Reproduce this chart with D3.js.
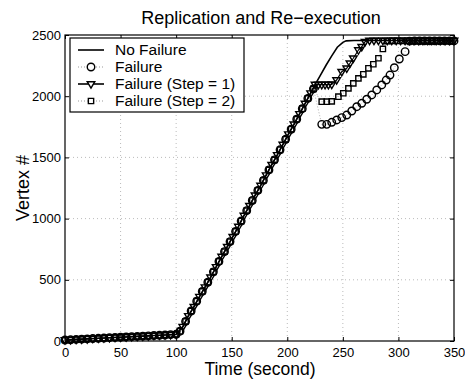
<!DOCTYPE html>
<html>
<head>
<meta charset="utf-8">
<script src="https://cdn.jsdelivr.net/npm/d3@7"></script>
<style>
  html, body { margin: 0; padding: 0; background: #fff; }
  svg { display: block; font-family: "Liberation Sans", Arial, Helvetica, sans-serif; }
</style>
</head>
<body>
<svg id="chart" width="465" height="379"></svg>
<script>
// ---------- data ----------
const title = "Replication and Re\u2212execution";
const xLabel = "Time (second)";
const yLabel = "Vertex #";
const xTicks = [0, 50, 100, 150, 200, 250, 300, 350];
const yTicks = [0, 500, 1000, 1500, 2000, 2500];
const seriesNames = ["No Failure", "Failure", "Failure (Step = 1)", "Failure (Step = 2)"];

// shared slow start (0-100 s)
const startT = [0,5,10,15,20,25,30,35,40,45,50,55,60,65,70,75,80,85,90,95,100];
const startV = [8,10,13,15,17,20,22,24,27,29,31,33,36,38,40,42,45,47,49,52,55];

// ramp samples (No Failure and Step = 1)
const rampT = [106,111,116,121,126,131,136,141,146,151,156,161,166,171,176,181,186,191,196,201,206,211,216,221,225];
const rampV = [117,205,280,362,440,520,605,690,770,852,935,1025,1105,1190,1270,1355,1440,1520,1605,1690,1770,1855,1940,2025,2095];

// ramp samples (Failure and Step = 2, taken in between)
const ramp2T = [103.5,108.5,113.5,118.5,123.5,128.5,133.5,138.5,143.5,148.5,153.5,158.5,163.5,168.5,173.5,178.5,183.5,188.5,193.5,198.5,203.5,208.5,213.5,218.5,223.5];
const ramp2V = [80,160,245,325,405,480,565,650,730,812,895,980,1065,1148,1230,1312,1398,1480,1562,1648,1730,1812,1898,1982,2060];

// No Failure (solid line, no markers)
const noFailT = [230,235,240,245,250,253,260,280,300,320,350];
const noFailV = [2175,2255,2330,2400,2440,2452,2455,2455,2455,2455,2455];

// Failure (circles)
const failT = [231,235.5,240,244.5,249,253.5,258,262.5,267,271.5,276,280.5,285,289,292.4,296.3,300.8,306,310,314.5,319,323.5,328,332.5,337,341.5,346,350];
const failV = [1770,1770,1787,1806,1825,1846,1879,1914,1942,1975,2010,2051,2092,2132,2173,2233,2304,2364,2450,2452,2452,2452,2452,2452,2452,2452,2452,2452];

// Failure (Step = 1) (triangles)
const step1T = [228,231,234,237,240,244.4,249,253.5,256.4,259.4,264,267,270,274,278,282,286,290,294,298,302,306,310,314,318,322,326,330,334,338,342,346,350];
const step1V = [2095,2095,2095,2095,2097,2132,2200,2228,2269,2310,2377,2404,2445,2455,2455,2455,2455,2455,2455,2455,2455,2455,2455,2455,2455,2455,2455,2455,2455,2455,2455,2455,2455];

// Failure (Step = 2) (squares)
const step2T = [231,235.5,240,246,250.4,255,259.4,264,268.4,273,277.4,282,286,290,294.5,299,303.5,308,312.5,317,321.5,326,330.5,335,339.5,344,348.5];
const step2V = [1955,1955,1958,1996,2024,2064,2105,2146,2179,2228,2261,2310,2386,2450,2452,2452,2452,2452,2452,2452,2452,2452,2452,2452,2452,2452,2452];

// ---------- build ----------
const zip = (ts, vs) => ts.map((t, i) => ({ t, v: vs[i] }));
const start = zip(startT, startV);
const rampA = start.concat(zip(rampT, rampV));
const rampB = start.concat(zip(ramp2T, ramp2V));
const series = [
  { name: seriesNames[0], data: rampA.concat(zip(noFailT, noFailV)), marker: null, dash: null, width: 1.6 },
  { name: seriesNames[1], data: rampB.concat(zip(failT, failV)), marker: "circle", dash: "1,2", lineColor: "#999", width: 0.8 },
  { name: seriesNames[2], data: rampA.concat(zip(step1T, step1V)), marker: "triangle", dash: null, width: 1.2 },
  { name: seriesNames[3], data: rampB.concat(zip(step2T, step2V)), marker: "square", dash: "1,2", lineColor: "#999", width: 0.8 }
];

const svg = d3.select("#chart");
const m = { left: 65, right: 454, top: 35, bottom: 341 };
const x = d3.scaleLinear().domain([0, 350]).range([m.left, m.right]);
const y = d3.scaleLinear().domain([0, 2500]).range([m.bottom, m.top]);

// grid
const grid = svg.append("g");
grid.selectAll(".gx").data(xTicks.slice(1, -1)).enter().append("line")
  .attr("x1", d => x(d)).attr("x2", d => x(d)).attr("y1", m.top).attr("y2", m.bottom)
  .attr("stroke", "#aaa").attr("stroke-width", 0.8).attr("stroke-dasharray", "1,3");
grid.selectAll(".gy").data(yTicks.slice(1, -1)).enter().append("line")
  .attr("y1", d => y(d)).attr("y2", d => y(d)).attr("x1", m.left).attr("x2", m.right)
  .attr("stroke", "#aaa").attr("stroke-width", 0.8).attr("stroke-dasharray", "1,3");

// axes
const fs = 13;
const xAxis = d3.axisBottom(x).tickValues(xTicks).tickSize(-4).tickPadding(7).tickFormat(d3.format("d"));
const yAxis = d3.axisLeft(y).tickValues(yTicks).tickSize(-4).tickPadding(4).tickFormat(d3.format("d"));
const gx = svg.append("g").attr("transform", `translate(0,${m.bottom})`).call(xAxis);
const gy = svg.append("g").attr("transform", `translate(${m.left},0)`).call(yAxis);
const gxTop = svg.append("g").attr("transform", `translate(0,${m.top})`).call(d3.axisTop(x).tickValues(xTicks).tickSize(-4).tickFormat(""));
const gyRight = svg.append("g").attr("transform", `translate(${m.right},0)`).call(d3.axisRight(y).tickValues(yTicks).tickSize(-4).tickFormat(""));
[gx, gy, gxTop, gyRight].forEach(g => {
  g.select(".domain").remove();
  g.selectAll("line").attr("stroke", "#000").attr("stroke-width", 1);
  g.selectAll("text").attr("font-size", fs).attr("fill", "#000")
    .attr("font-family", "'Liberation Sans', Arial, Helvetica, sans-serif");
});
svg.append("rect").attr("x", m.left).attr("y", m.top)
  .attr("width", m.right - m.left).attr("height", m.bottom - m.top)
  .attr("fill", "none").attr("stroke", "#000").attr("stroke-width", 1.2);

// lines
const line = d3.line().x(d => x(d.t)).y(d => y(d.v));
const plot = svg.append("g");
function markerPath(type) {
  if (type === "circle") return d3.symbol().type(d3.symbolCircle).size(44)();
  if (type === "square") return d3.symbol().type(d3.symbolSquare).size(28)();
  if (type === "triangle") {
    const s = 3.8;
    return `M${-s},${-s * 0.6}L${s},${-s * 0.6}L0,${s * 1.1}Z`;
  }
}
// draw order: circles, squares, triangles, no-failure
const order = [1, 3, 2, 0];
order.forEach(i => {
  const s = series[i];
  plot.append("path").datum(s.data).attr("d", line)
    .attr("fill", "none").attr("stroke", s.lineColor || "#000")
    .attr("stroke-width", s.width).attr("stroke-dasharray", s.dash);
  if (s.marker) {
    plot.selectAll(null).data(s.data).enter().append("path")
      .attr("transform", d => `translate(${x(d.t)},${y(d.v)})`)
      .attr("d", markerPath(s.marker))
      .attr("fill", "none").attr("stroke", "#000").attr("stroke-width", 1.4);
  }
});

// title and labels
svg.append("text").attr("x", 261).attr("y", 24).attr("text-anchor", "middle")
  .attr("font-size", 18).text(title);
svg.append("text").attr("x", 260).attr("y", 375).attr("text-anchor", "middle")
  .attr("font-size", 17.5).text(xLabel);
svg.append("text").attr("transform", `translate(29,${(m.top + m.bottom) / 2}) rotate(-90)`)
  .attr("text-anchor", "middle").attr("font-size", 18).text(yLabel);

// legend
const lg = svg.append("g");
lg.append("rect").attr("x", 70).attr("y", 38).attr("width", 174).attr("height", 74)
  .attr("fill", "#fff").attr("stroke", "#000").attr("stroke-width", 1.2);
const rowY = [50, 67, 84, 101];
series.forEach((s, i) => {
  const yy = rowY[i];
  lg.append("line").attr("x1", 78).attr("x2", 104).attr("y1", yy).attr("y2", yy)
    .attr("stroke", s.lineColor || "#000").attr("stroke-width", s.width === 0.8 ? 1 : 1.6)
    .attr("stroke-dasharray", s.dash);
  if (s.marker) {
    lg.append("path").attr("transform", `translate(91,${yy})`).attr("d", markerPath(s.marker))
      .attr("fill", "#fff").attr("stroke", "#000").attr("stroke-width", 1.4);
  }
  lg.append("text").attr("x", 115).attr("y", yy + 5).attr("font-size", 15.5).text(s.name);
});
</script>
</body>
</html>
